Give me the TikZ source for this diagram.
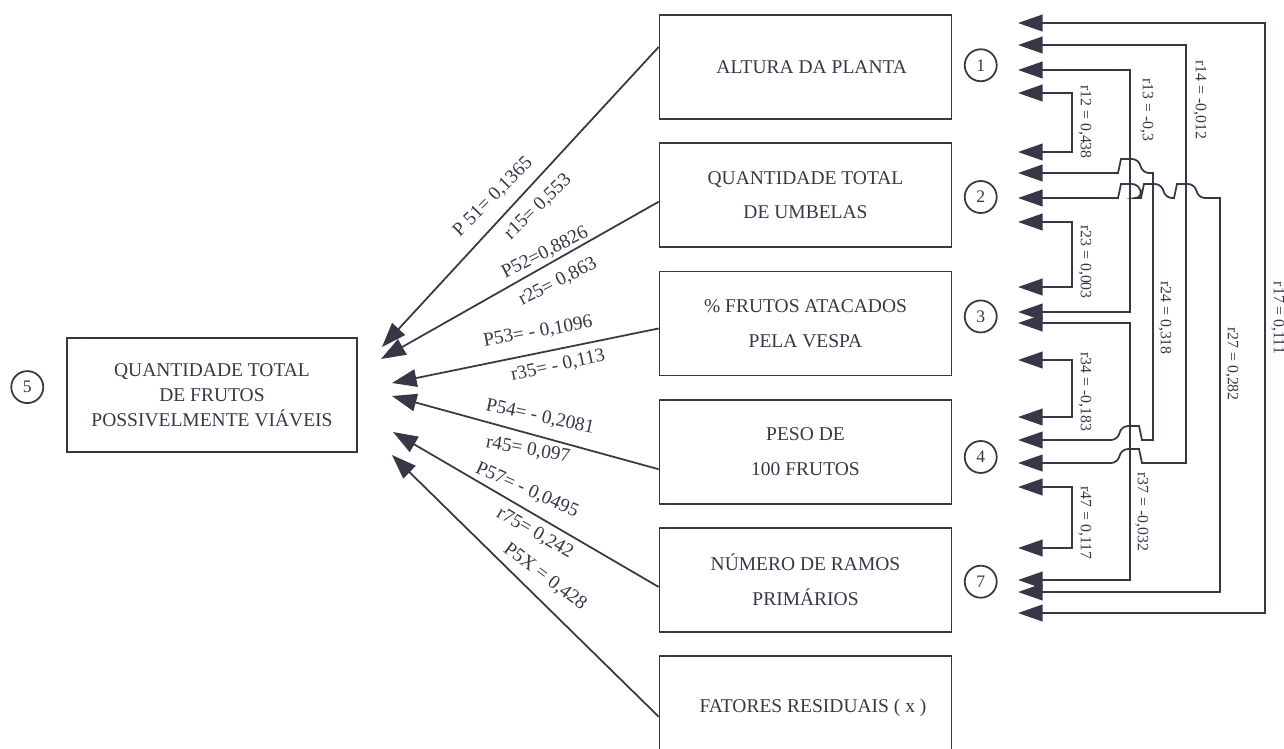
\documentclass[tikz,border=0pt]{standalone}
\usepackage{fontspec}
\setmainfont{Liberation Serif}
\usetikzlibrary{arrows.meta,calc,positioning}

\definecolor{ink}{RGB}{55,55,72}

% little bump where a line passes over another one
\newcommand\hopover[2]{-- ($#1+(-12*#2,0)$) -- ++(3*#2,-14) [rounded corners=4pt] -- ++(18*#2,0) -- ++(3*#2,14) [sharp corners]}

\begin{document}
\begin{tikzpicture}[x=0.02cm, y=-0.02cm, line width=1pt, color=ink,
    node distance = 0.45cm,
    box/.style  = {rectangle, draw, minimum width=5.84cm, minimum height=2.08cm,
                   align=center, inner sep=0pt,
                   font=\fontsize{11.1}{19.8}\selectfont},
    num/.style  = {circle, draw, minimum size=0.64cm, inner sep=0pt,
                   font=\fontsize{10}{12}\selectfont},
    seta/.style = {-{Triangle[length=14pt,width=10pt]}},
    cor/.style  = {{Triangle[length=14pt,width=9.5pt]}-{Triangle[length=14pt,width=9.5pt]}},
    coef/.style = {font=\fontsize{11}{13}\selectfont, inner sep=0pt},
    rcoef/.style = {font=\fontsize{9}{11}\selectfont, rotate=-90, inner sep=0pt}
                    ]

    \useasboundingbox (0,0) rectangle (1284,748);
    \clip (0,0) rectangle (1284,748);

    % dependent variable
    \node (fru) [box, minimum width=5.8cm, minimum height=2.28cm,
                 font=\fontsize{11.1}{14.2}\selectfont] at (212,395)
                {QUANTIDADE TOTAL\\ DE FRUTOS\\ POSSIVELMENTE VIÁVEIS};
    \node (n5) [num, left=0.44cm of fru, yshift=4.5pt] {5};

    % explanatory variables
    \node (alt) [box] at (805.5,67) {\hspace*{0.25cm}ALTURA DA PLANTA};
    \node (umb) [box, below=of alt] {QUANTIDADE TOTAL\\ DE UMBELAS};
    \node (ves) [box, below=of umb] {\% FRUTOS ATACADOS\\ PELA VESPA};
    \node (pes) [box, below=of ves] {PESO DE\\ 100 FRUTOS};
    \node (ram) [box, below=of pes] {NÚMERO DE RAMOS\\ PRIMÁRIOS};
    \node (res) [box, below=of ram] {\hspace*{0.3cm}FATORES RESIDUAIS ( x )};

    \node (n1) [num, right=0.23cm of alt, yshift=1pt] {1};
    \node (n2) [num, right=0.23cm of umb, yshift=-1pt] {2};
    \node (n3) [num, right=0.23cm of ves, yshift=4pt] {3};
    \node (n4) [num, right=0.23cm of pes, yshift=-3pt] {4};
    \node (n7) [num, right=0.23cm of ram, yshift=-1pt] {7};

    % direct effects
    \coordinate (f1) at (382,347);
    \coordinate (f2) at (381,359);
    \coordinate (f3) at (392,383);
    \coordinate (f4) at (392,396);
    \coordinate (f5) at (393,432);
    \coordinate (f6) at (392,455);

    \draw[seta] ($(alt.west)+(0,-20)$) -- (f1);
    \draw[seta] ($(umb.west)+(0,6.5)$) -- (f2);
    \draw[seta] ($(ves.west)+(0,5)$) -- (f3);
    \draw[seta] ($(pes.west)+(0,17.5)$) -- (f4);
    \draw[seta] ($(ram.west)+(0,7)$) -- (f5);
    \draw[seta] ($(res.west)+(0,8.5)$) -- (f6);

    \node (lp51) [coef, rotate=45]  at (493,197) {P 51= 0,1365};
    \node (lr15) [coef, rotate=44]  at (538,207) {r15= 0,553};
    \node (lp52) [coef, rotate=27]  at (545,253) {P52=0,8826};
    \node (lr25) [coef, rotate=27]  at (558,282) {r25= 0,863};
    \node (lp53) [coef, rotate=10]  at (538,332) {P53= - 0,1096};
    \node (lr35) [coef, rotate=12]  at (558,366) {r35= - 0,113};
    \node (lp54) [coef, rotate=-12] at (540,417) {P54= - 0,2081};
    \node (lr45) [coef, rotate=-10] at (528,450) {r45= 0,097};
    \node (lp57) [coef, rotate=-24] at (527,490) {P57= - 0,0495};
    \node (lr75) [coef, rotate=-30] at (535,533) {r75= 0,242};
    \node (lp5x) [coef, rotate=-37] at (545,577) {P5X = 0,428};

    % correlations
    \coordinate (v12) at (1072,0);
    \coordinate (v13) at (1130,0);
    \coordinate (v24) at (1153,0);
    \coordinate (v14) at (1186,0);
    \coordinate (v27) at (1220,0);
    \coordinate (v17) at (1265,0);

    \coordinate (k1a) at (1018,23);
    \coordinate (k1b) at (1018,45);
    \coordinate (k1c) at (1018,70);
    \coordinate (k1d) at (1018,93);
    \coordinate (k2a) at (1018,152);
    \coordinate (k2b) at (1018,173);
    \coordinate (k2c) at (1018,198);
    \coordinate (k2d) at (1018,222);
    \coordinate (k3a) at (1018,287);
    \coordinate (k3b) at (1018,312);
    \coordinate (k3c) at (1018,323);
    \coordinate (k3d) at (1018,360);
    \coordinate (k4a) at (1018,417);
    \coordinate (k4b) at (1018,440);
    \coordinate (k4c) at (1018,463);
    \coordinate (k7a) at (1018,487);
    \coordinate (k7b) at (1018,548);
    \coordinate (k7c) at (1018,580);
    \coordinate (k7d) at (1018,592);
    \coordinate (k7e) at (1018,613);

    \draw[cor] (k1d) -- (k1d -| v12) -- (k2a -| v12) -- (k2a);
    \draw[cor] (k1c) -- (k1c -| v13) -- (k3b -| v13) -- (k3b);
    \draw[cor] (k1b) -- (k1b -| v14) -- (k4c -| v14) \hopover{(k4c -| v13)}{-1} -- (k4c);
    \draw[cor] (k1a) -- (k1a -| v17) -- (k7e -| v17) -- (k7e);
    \draw[cor] (k2d) -- (k2d -| v12) -- (k3a -| v12) -- (k3a);
    \draw[cor] (k2b) \hopover{(k2b -| v13)}{1} -- (k2b -| v24) -- (k4b -| v24)
                     \hopover{(k4b -| v13)}{-1} -- (k4b);
    \draw[cor] (k2c) \hopover{(k2c -| v13)}{1} \hopover{(k2c -| v24)}{1}
                     \hopover{(k2c -| v14)}{1} -- (k2c -| v27) -- (k7d -| v27) -- (k7d);
    \draw[cor] (k3d) -- (k3d -| v12) -- (k4a -| v12) -- (k4a);
    \draw[cor] (k3c) -- (k3c -| v13) -- (k7c -| v13) -- (k7c);
    \draw[cor] (k7a) -- (k7a -| v12) -- (k7b -| v12) -- (k7b);

    \node (l12) [rcoef] at (1085,122) {r12 = 0,438};
    \node (l13) [rcoef] at (1147,110) {r13 = -0,3};
    \node (l14) [rcoef] at (1200,100) {r14 = -0,012};
    \node (l23) [rcoef] at (1085,262) {r23 = 0,003};
    \node (l24) [rcoef] at (1165,318) {r24 = 0,318};
    \node (l17) [rcoef] at (1278,318) {r17 = 0,111};
    \node (l27) [rcoef] at (1232,364) {r27 = 0,282};
    \node (l34) [rcoef] at (1085,392) {r34 = -0,183};
    \node (l37) [rcoef] at (1142,512) {r37 = -0,032};
    \node (l47) [rcoef] at (1085,523) {r47 = 0,117};
\end{tikzpicture}
\end{document}
